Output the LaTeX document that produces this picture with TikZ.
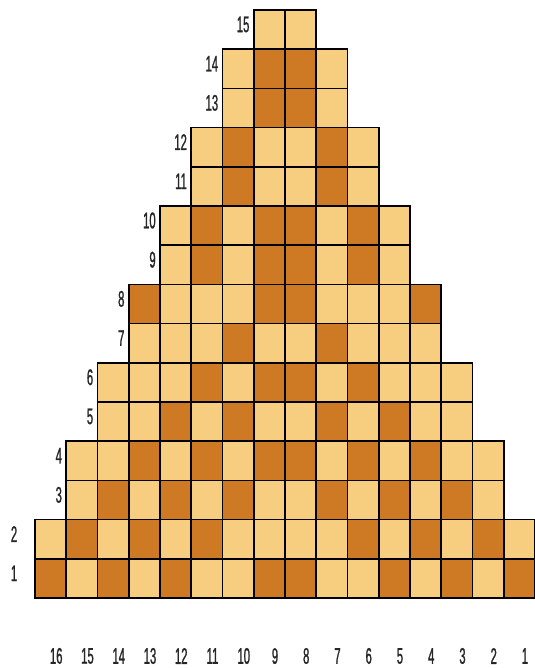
\documentclass[tikz,border=0pt]{standalone}
\usepackage{fontspec}
\usepackage{xcolor}
\newfontfamily\labelfont[FakeStretch=0.5,FakeBold=1]{Liberation Sans}
\definecolor{cellorange}{RGB}{206,122,36}
\definecolor{cellsand}{RGB}{247,205,128}
\usepackage{tikz}
\tikzset{
  cellline/.style={line width=1.3pt, black, line cap=rect},
  numlabel/.style={font=\labelfont\fontsize{17}{17}\selectfont, inner sep=0pt, text=black!85}
}

\begin{document}
\begin{tikzpicture}[x=0.8268cm, y=1.0372cm]
  \useasboundingbox (-1.12,-1.786) rectangle (16,15.255);

  % --- Light base of every row (rows pair up, each pair one cell narrower per side) ---
  \foreach \r in {1,...,15} {
    \pgfmathtruncatemacro\k{(\r-1)/2}
    \fill[cellsand] (\k,\r-1) rectangle (16-\k,\r);
  }

  % --- Dark cells, given as column/row ---
  \foreach \c/\r in {16/1,14/1,12/1,9/1,8/1,5/1,3/1,1/1,
                     15/2,13/2,11/2,6/2,4/2,2/2,
                     14/3,12/3,10/3,7/3,5/3,3/3,
                     13/4,11/4,9/4,8/4,6/4,4/4,
                     12/5,10/5,7/5,5/5,
                     11/6,9/6,8/6,6/6,
                     10/7,7/7,
                     13/8,9/8,8/8,4/8,
                     11/9,9/9,8/9,6/9,
                     11/10,9/10,8/10,6/10,
                     10/11,7/11,
                     10/12,7/12,
                     9/13,8/13,
                     9/14,8/14}
    \fill[cellorange] (16-\c,\r-1) rectangle (17-\c,\r);

  % --- Cell borders ---
  \foreach \r in {1,...,15} {
    \pgfmathtruncatemacro\k{(\r-1)/2}
    \pgfmathtruncatemacro\m{16-\k}
    \draw[cellline] (\k,\r-1) -- (\m,\r-1) (\k,\r) -- (\m,\r);
    \foreach \x in {\k,...,\m}
      \draw[cellline] (\x,\r-1) -- (\x,\r);
  }

  % --- Row numbers ---
  \node[numlabel] (row1) at (-0.67,0.63) {1};
  \node[numlabel] (row2) at (-0.67,1.63) {2};
  \foreach \r in {3,...,15} {
    \pgfmathtruncatemacro\k{(\r-1)/2}
    \node[numlabel, anchor=east] (row\r) at (\k-0.13,\r-0.37) {\r};
  }

  % --- Column numbers ---
  \foreach \c in {1,...,16}
    \node[numlabel] (col\c) at (16.68-\c,-1.48) {\c};
\end{tikzpicture}
\end{document}
